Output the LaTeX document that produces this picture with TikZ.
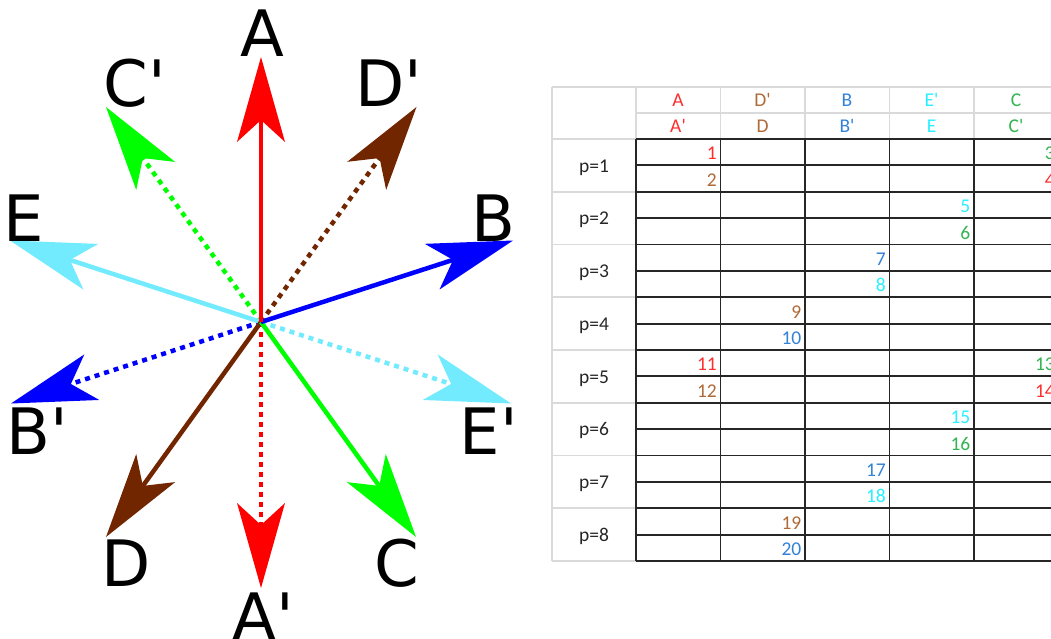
\documentclass[tikz,border=0pt]{standalone}
\usepackage{fontspec}
\usetikzlibrary{arrows.meta}
\newfontfamily\labfont{DejaVu Sans}
\newfontfamily\tabfont{Carlito}
\definecolor{vred}{RGB}{255,0,0}
\definecolor{vblue}{RGB}{0,0,255}
\definecolor{vgreen}{RGB}{0,255,0}
\definecolor{vbrown}{RGB}{114,38,0}
\definecolor{vcyan}{RGB}{115,235,255}
\definecolor{tred}{RGB}{255,45,45}
\definecolor{tbrown}{RGB}{176,106,56}
\definecolor{tblue}{RGB}{50,130,215}
\definecolor{tcyan}{RGB}{40,240,255}
\definecolor{tgreen}{RGB}{50,180,80}
\definecolor{gridgray}{RGB}{218,218,218}
\newcommand{\qs}{\textquotesingle}
\tikzset{
  vec/.style={line width=4.5pt, line cap=butt, -{Stealth[length=85pt,width=48pt,inset=22pt,line width=0pt]}},
  dvec/.style={vec, dash pattern=on 5pt off 5pt},
  biglab/.style={anchor=base, inner sep=0pt, font=\labfont\fontsize{64}{64}\selectfont},
  tabtxt/.style={inner sep=0pt, font=\tabfont\fontsize{19.5}{20}\selectfont},
  hdr/.style={tabtxt, anchor=base},
  num/.style={tabtxt, anchor=base east},
  graylines/.style={draw=gridgray, line width=1.6pt},
  blacklines/.style={draw=black!85, line width=1.8pt},
}
\begin{document}
\begin{tikzpicture}[x=1pt,y=-1pt]
\useasboundingbox (0,0) rectangle (1051,639);
\clip (0,0) rectangle (1051,639);
\fill[white] (0,0) rectangle (1051,639);
% ---------- star of vectors ----------
\coordinate (O) at (261,322);
\coordinate (tA)  at (261,57);
\coordinate (tAp) at (261,588);
\coordinate (tDp) at (416.5,107);
\coordinate (tD)  at (106,537);
\coordinate (tCp) at (106,107);
\coordinate (tC)  at (416,537);
\coordinate (tB)  at (513,240.5);
\coordinate (tBp) at (11,403.5);
\coordinate (tE)  at (10,240.5);
\coordinate (tEp) at (511,403.5);

\draw[dvec, vgreen] (O) -- (tCp);
\draw[dvec, vbrown] (O) -- (tDp);
\draw[dvec, vblue]  (O) -- (tBp);
\draw[dvec, vcyan]  (O) -- (tEp);
\draw[dvec, vred]   (O) -- (tAp);
\draw[vec, vcyan]   (O) -- (tE);
\draw[vec, vbrown]  (O) -- (tD);
\draw[vec, vgreen]  (O) -- (tC);
\draw[vec, vblue]   (O) -- (tB);
\draw[vec, vred]    (O) -- (tA);

\node[biglab] (lA)  at (262,57)  {A};
\node[biglab] (lCp) at (135,107) {C\qs};
\node[biglab] (lDp) at (389,107) {D\qs};
\node[biglab] (lE)  at (24,241)  {E};
\node[biglab] (lB)  at (493,241) {B};
\node[biglab] (lBp) at (37,454)  {B\qs};
\node[biglab] (lEp) at (489,454) {E\qs};
\node[biglab] (lD)  at (126,586) {D};
\node[biglab] (lC)  at (397,586) {C};
\node[biglab] (lAp) at (263,639) {A\qs};

% ---------- table ----------
% gray header / label grid
\draw[graylines] (552,87) -- (1051,87);
\draw[graylines] (636,113) -- (1051,113);
\draw[graylines] (552,87) -- (552,561);
\foreach \x in {636,720.5,805,889.5,974} {
  \draw[graylines] (\x,87) -- (\x,139);
}
\foreach \g in {0,...,8} {
  \draw[graylines] (552,{139+\g*52.75}) -- (636,{139+\g*52.75});
}
% black data grid
\foreach \k in {0,...,16} {
  \draw[blacklines] (636,{139+\k*26.375}) -- (1051,{139+\k*26.375});
}
\foreach \x in {636,720.5,805,889.5,974} {
  \draw[blacklines] (\x,139) -- (\x,561);
}
% header texts
\node[hdr, text=tred]   (h1a) at (678,107) {A};
\node[hdr, text=tbrown] (h1b) at (762.5,107) {D\qs};
\node[hdr, text=tblue]  (h1c) at (847,107) {B};
\node[hdr, text=tcyan]  (h1d) at (931.5,107) {E\qs};
\node[hdr, text=tgreen] (h1e) at (1016,107) {C};
\node[hdr, text=tred]   (h2a) at (678,133) {A\qs};
\node[hdr, text=tbrown] (h2b) at (762.5,133) {D};
\node[hdr, text=tblue]  (h2c) at (847,133) {B\qs};
\node[hdr, text=tcyan]  (h2d) at (931.5,133) {E};
\node[hdr, text=tgreen] (h2e) at (1016,133) {C\qs};
% p labels
\foreach \g in {1,...,8} {
  \node[hdr, text=black!85] (p\g) at (594,{139+(\g-1)*52.75+33}) {p=\g};
}
% numbers: row index, column right edge, text, colour
\foreach \k/\xr/\t/\c in {
  0/720.5/1/tred, 1/720.5/2/tbrown, 0/1058.5/3/tgreen, 1/1058.5/4/tred,
  2/974/5/tcyan, 3/974/6/tgreen,
  4/889.5/7/tblue, 5/889.5/8/tcyan,
  6/805/9/tbrown, 7/805/10/tblue,
  8/720.5/11/tred, 9/720.5/12/tbrown, 8/1058.5/13/tgreen, 9/1058.5/14/tred,
  10/974/15/tcyan, 11/974/16/tgreen,
  12/889.5/17/tblue, 13/889.5/18/tcyan,
  14/805/19/tbrown, 15/805/20/tblue} {
  \node[num, text=\c] (n\t) at ({\xr-3.5},{139+(\k+1)*26.375-5.5}) {\t};
}
\end{tikzpicture}
\end{document}
